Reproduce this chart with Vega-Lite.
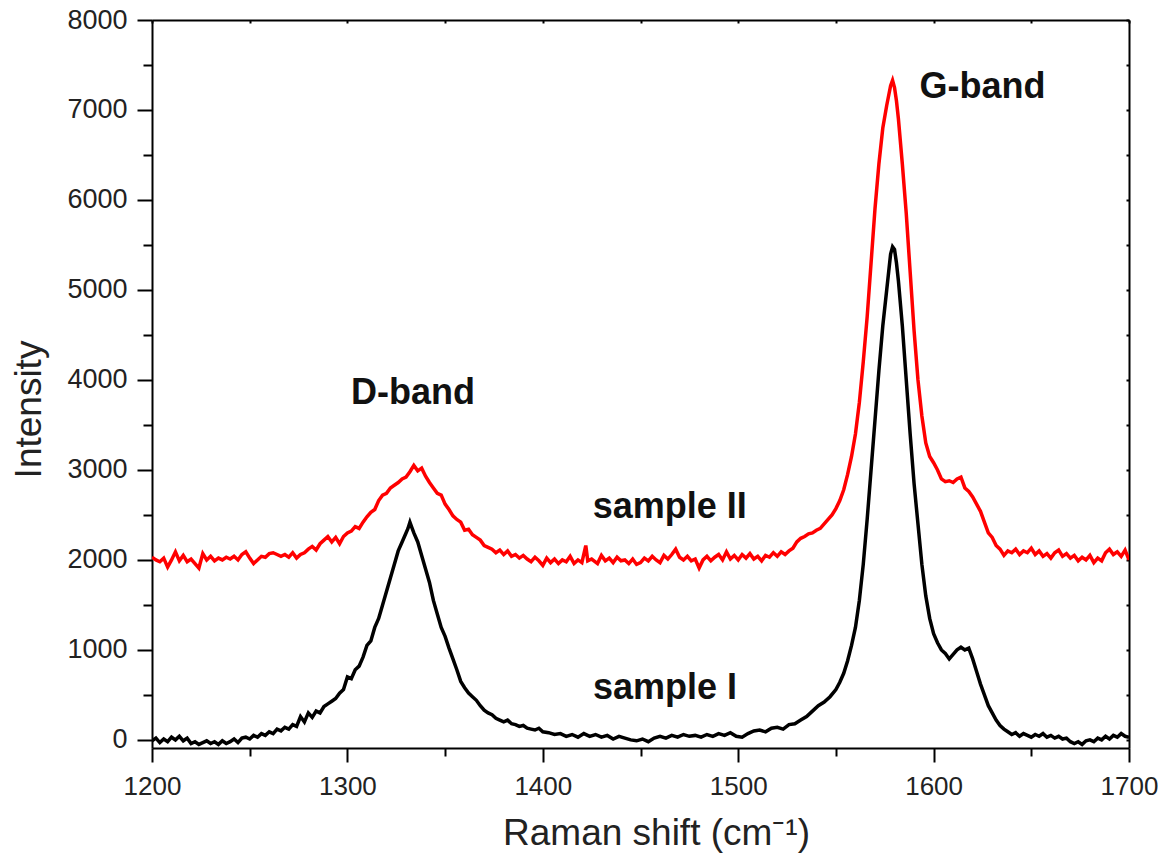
{
  "$schema": "https://vega.github.io/schema/vega-lite/v6.json",
  "width": 977,
  "height": 728,
  "autosize": "none",
  "padding": {"left": 152, "top": 20, "right": 29, "bottom": 112},
  "background": "white",
  "config": {
    "view": {"stroke": null},
    "font": "Liberation Sans",
    "axis": {"grid": false, "domainColor": "black", "domainWidth": 2, "tickColor": "black", "tickWidth": 2, "labelColor": "#222", "titleColor": "#222", "labelFont": "Liberation Sans", "titleFont": "Liberation Sans", "titleFontWeight": "normal"}
  },
  "datasets": {
    "s1": [
      {"x":1200,"y":-10},{"x":1202,"y":20},{"x":1204,"y":-30},{"x":1206,"y":10},{"x":1208,"y":-20},{"x":1210,"y":30},{"x":1212,"y":0},{"x":1214,"y":40},{"x":1216,"y":-10},{"x":1218,"y":20},
      {"x":1220,"y":-40},{"x":1222,"y":-20},{"x":1224,"y":-50},{"x":1226,"y":-30},{"x":1228,"y":-10},{"x":1230,"y":-40},{"x":1232,"y":-20},{"x":1234,"y":-50},{"x":1236,"y":-10},{"x":1238,"y":-40},
      {"x":1240,"y":-20},{"x":1242,"y":10},{"x":1244,"y":-30},{"x":1246,"y":20},{"x":1248,"y":30},{"x":1250,"y":10},{"x":1252,"y":50},{"x":1254,"y":30},{"x":1256,"y":70},{"x":1258,"y":50},
      {"x":1260,"y":90},{"x":1262,"y":70},{"x":1264,"y":120},{"x":1266,"y":100},{"x":1268,"y":140},{"x":1270,"y":120},{"x":1272,"y":170},{"x":1274,"y":150},{"x":1276,"y":260},{"x":1278,"y":200},
      {"x":1280,"y":300},{"x":1282,"y":250},{"x":1284,"y":320},{"x":1286,"y":300},{"x":1288,"y":370},{"x":1290,"y":400},{"x":1292,"y":430},{"x":1294,"y":460},{"x":1296,"y":520},{"x":1298,"y":560},
      {"x":1300,"y":700},{"x":1302,"y":680},{"x":1304,"y":780},{"x":1306,"y":820},{"x":1308,"y":920},{"x":1310,"y":1050},{"x":1312,"y":1100},{"x":1314,"y":1250},{"x":1316,"y":1350},{"x":1318,"y":1500},
      {"x":1320,"y":1650},{"x":1322,"y":1800},{"x":1324,"y":1950},{"x":1326,"y":2100},{"x":1328,"y":2200},{"x":1330,"y":2300},{"x":1331,"y":2350},{"x":1332,"y":2420},{"x":1333,"y":2360},{"x":1334,"y":2300},
      {"x":1336,"y":2200},{"x":1338,"y":2050},{"x":1340,"y":1900},{"x":1342,"y":1750},{"x":1344,"y":1550},{"x":1346,"y":1400},{"x":1348,"y":1250},{"x":1350,"y":1150},{"x":1352,"y":1020},{"x":1354,"y":900},
      {"x":1356,"y":780},{"x":1358,"y":650},{"x":1360,"y":580},{"x":1362,"y":520},{"x":1364,"y":480},{"x":1366,"y":440},{"x":1368,"y":380},{"x":1370,"y":330},{"x":1372,"y":300},{"x":1374,"y":280},
      {"x":1376,"y":240},{"x":1378,"y":220},{"x":1380,"y":200},{"x":1382,"y":220},{"x":1384,"y":180},{"x":1386,"y":170},{"x":1388,"y":150},{"x":1390,"y":160},{"x":1392,"y":130},{"x":1394,"y":120},
      {"x":1396,"y":110},{"x":1398,"y":130},{"x":1400,"y":90},{"x":1403,"y":80},{"x":1406,"y":60},{"x":1409,"y":70},{"x":1412,"y":40},{"x":1415,"y":60},{"x":1418,"y":30},{"x":1421,"y":70},
      {"x":1424,"y":40},{"x":1427,"y":60},{"x":1430,"y":30},{"x":1433,"y":50},{"x":1436,"y":10},{"x":1439,"y":40},{"x":1442,"y":20},{"x":1445,"y":0},{"x":1448,"y":-10},{"x":1451,"y":10},
      {"x":1454,"y":-20},{"x":1457,"y":20},{"x":1460,"y":40},{"x":1463,"y":20},{"x":1466,"y":50},{"x":1469,"y":30},{"x":1472,"y":60},{"x":1475,"y":40},{"x":1478,"y":50},{"x":1481,"y":30},
      {"x":1484,"y":60},{"x":1487,"y":40},{"x":1490,"y":70},{"x":1493,"y":50},{"x":1496,"y":80},{"x":1499,"y":40},{"x":1502,"y":30},{"x":1505,"y":70},{"x":1508,"y":100},{"x":1511,"y":110},
      {"x":1514,"y":90},{"x":1517,"y":130},{"x":1520,"y":140},{"x":1523,"y":120},{"x":1526,"y":170},{"x":1529,"y":180},{"x":1532,"y":220},{"x":1535,"y":260},{"x":1538,"y":320},{"x":1541,"y":380},
      {"x":1544,"y":420},{"x":1547,"y":480},{"x":1550,"y":560},{"x":1552,"y":640},{"x":1554,"y":740},{"x":1556,"y":880},{"x":1558,"y":1050},{"x":1560,"y":1250},{"x":1562,"y":1550},{"x":1564,"y":1950},
      {"x":1566,"y":2450},{"x":1568,"y":3000},{"x":1570,"y":3550},{"x":1572,"y":4100},{"x":1574,"y":4600},{"x":1576,"y":5000},{"x":1578,"y":5400},{"x":1579,"y":5480},{"x":1580,"y":5450},{"x":1581,"y":5300},
      {"x":1582,"y":5100},{"x":1584,"y":4600},{"x":1586,"y":4000},{"x":1588,"y":3400},{"x":1590,"y":2850},{"x":1592,"y":2400},{"x":1594,"y":1950},{"x":1596,"y":1600},{"x":1598,"y":1350},{"x":1600,"y":1180},
      {"x":1602,"y":1080},{"x":1604,"y":1000},{"x":1606,"y":960},{"x":1608,"y":900},{"x":1610,"y":950},{"x":1612,"y":1000},{"x":1614,"y":1030},{"x":1616,"y":1000},{"x":1618,"y":1020},{"x":1620,"y":900},
      {"x":1622,"y":760},{"x":1624,"y":620},{"x":1626,"y":500},{"x":1628,"y":380},{"x":1630,"y":300},{"x":1632,"y":220},{"x":1634,"y":160},{"x":1636,"y":120},{"x":1638,"y":90},{"x":1640,"y":60},
      {"x":1642,"y":80},{"x":1644,"y":40},{"x":1646,"y":70},{"x":1648,"y":50},{"x":1650,"y":30},{"x":1652,"y":60},{"x":1654,"y":40},{"x":1656,"y":70},{"x":1658,"y":30},{"x":1660,"y":50},
      {"x":1662,"y":20},{"x":1664,"y":40},{"x":1666,"y":10},{"x":1668,"y":20},{"x":1670,"y":-20},{"x":1672,"y":-40},{"x":1674,"y":-20},{"x":1676,"y":-50},{"x":1678,"y":-10},{"x":1680,"y":0},
      {"x":1682,"y":-20},{"x":1684,"y":20},{"x":1686,"y":0},{"x":1688,"y":40},{"x":1690,"y":10},{"x":1692,"y":50},{"x":1694,"y":30},{"x":1696,"y":70},{"x":1698,"y":40},{"x":1700,"y":30}
    ],
    "s2": [
      {"x":1200,"y":2030},{"x":1202,"y":2000},{"x":1204,"y":1980},{"x":1206,"y":2020},{"x":1208,"y":1920},{"x":1210,"y":2000},{"x":1212,"y":2090},{"x":1214,"y":1990},{"x":1216,"y":2050},{"x":1218,"y":1980},
      {"x":1220,"y":2010},{"x":1222,"y":1960},{"x":1224,"y":1910},{"x":1226,"y":2070},{"x":1228,"y":2000},{"x":1230,"y":2040},{"x":1232,"y":1990},{"x":1234,"y":2020},{"x":1236,"y":2000},{"x":1238,"y":2030},
      {"x":1240,"y":2010},{"x":1242,"y":2040},{"x":1244,"y":2000},{"x":1246,"y":2060},{"x":1248,"y":2090},{"x":1250,"y":2020},{"x":1252,"y":1960},{"x":1254,"y":2000},{"x":1256,"y":2040},{"x":1258,"y":2030},
      {"x":1260,"y":2070},{"x":1262,"y":2080},{"x":1264,"y":2060},{"x":1266,"y":2040},{"x":1268,"y":2060},{"x":1270,"y":2030},{"x":1272,"y":2080},{"x":1274,"y":2020},{"x":1276,"y":2060},{"x":1278,"y":2080},
      {"x":1280,"y":2120},{"x":1282,"y":2150},{"x":1284,"y":2110},{"x":1286,"y":2180},{"x":1288,"y":2220},{"x":1290,"y":2260},{"x":1292,"y":2200},{"x":1294,"y":2250},{"x":1296,"y":2180},{"x":1298,"y":2260},
      {"x":1300,"y":2300},{"x":1302,"y":2320},{"x":1304,"y":2370},{"x":1306,"y":2350},{"x":1308,"y":2420},{"x":1310,"y":2480},{"x":1312,"y":2530},{"x":1314,"y":2560},{"x":1316,"y":2660},{"x":1318,"y":2720},
      {"x":1320,"y":2740},{"x":1322,"y":2800},{"x":1324,"y":2830},{"x":1326,"y":2860},{"x":1328,"y":2900},{"x":1330,"y":2920},{"x":1332,"y":2980},{"x":1334,"y":3050},{"x":1336,"y":2990},{"x":1338,"y":3020},
      {"x":1340,"y":2930},{"x":1342,"y":2860},{"x":1344,"y":2800},{"x":1346,"y":2740},{"x":1348,"y":2720},{"x":1350,"y":2620},{"x":1352,"y":2560},{"x":1354,"y":2490},{"x":1356,"y":2450},{"x":1358,"y":2420},
      {"x":1360,"y":2330},{"x":1362,"y":2340},{"x":1364,"y":2280},{"x":1366,"y":2250},{"x":1368,"y":2220},{"x":1370,"y":2160},{"x":1372,"y":2140},{"x":1374,"y":2120},{"x":1376,"y":2080},{"x":1378,"y":2110},
      {"x":1380,"y":2060},{"x":1382,"y":2100},{"x":1384,"y":2040},{"x":1386,"y":2060},{"x":1388,"y":2020},{"x":1390,"y":2050},{"x":1392,"y":2010},{"x":1394,"y":1980},{"x":1396,"y":2030},{"x":1398,"y":1990},
      {"x":1400,"y":1940},{"x":1402,"y":2020},{"x":1404,"y":1970},{"x":1406,"y":2010},{"x":1408,"y":1960},{"x":1410,"y":2000},{"x":1412,"y":1980},{"x":1414,"y":2040},{"x":1416,"y":1960},{"x":1418,"y":2000},
      {"x":1420,"y":1970},{"x":1422,"y":2160},{"x":1423,"y":1990},{"x":1425,"y":2010},{"x":1428,"y":1960},{"x":1430,"y":2050},{"x":1432,"y":1990},{"x":1434,"y":2020},{"x":1436,"y":1970},{"x":1438,"y":2030},
      {"x":1440,"y":1990},{"x":1442,"y":2000},{"x":1444,"y":1960},{"x":1446,"y":2010},{"x":1448,"y":1950},{"x":1450,"y":1970},{"x":1452,"y":2020},{"x":1454,"y":1990},{"x":1456,"y":2040},{"x":1458,"y":2000},
      {"x":1460,"y":1970},{"x":1462,"y":2050},{"x":1464,"y":2010},{"x":1466,"y":2060},{"x":1468,"y":2120},{"x":1470,"y":2030},{"x":1472,"y":2000},{"x":1474,"y":2040},{"x":1476,"y":1990},{"x":1478,"y":2010},
      {"x":1480,"y":1910},{"x":1482,"y":2000},{"x":1484,"y":2040},{"x":1486,"y":1990},{"x":1488,"y":2030},{"x":1490,"y":2060},{"x":1492,"y":2000},{"x":1494,"y":2090},{"x":1496,"y":2010},{"x":1498,"y":2050},
      {"x":1500,"y":2000},{"x":1502,"y":2060},{"x":1504,"y":2020},{"x":1506,"y":2070},{"x":1508,"y":2010},{"x":1510,"y":2040},{"x":1512,"y":1990},{"x":1514,"y":2050},{"x":1516,"y":2030},{"x":1518,"y":2080},
      {"x":1520,"y":2040},{"x":1522,"y":2090},{"x":1524,"y":2060},{"x":1526,"y":2100},{"x":1528,"y":2130},{"x":1530,"y":2200},{"x":1532,"y":2240},{"x":1534,"y":2260},{"x":1536,"y":2290},{"x":1538,"y":2300},
      {"x":1540,"y":2330},{"x":1542,"y":2350},{"x":1544,"y":2400},{"x":1546,"y":2450},{"x":1548,"y":2500},{"x":1550,"y":2570},{"x":1552,"y":2660},{"x":1554,"y":2780},{"x":1556,"y":2950},{"x":1558,"y":3150},
      {"x":1560,"y":3400},{"x":1562,"y":3750},{"x":1564,"y":4200},{"x":1566,"y":4700},{"x":1568,"y":5300},{"x":1570,"y":5900},{"x":1572,"y":6400},{"x":1574,"y":6800},{"x":1576,"y":7050},{"x":1578,"y":7270},
      {"x":1579,"y":7330},{"x":1580,"y":7250},{"x":1581,"y":7100},{"x":1582,"y":6900},{"x":1584,"y":6400},{"x":1586,"y":5850},{"x":1588,"y":5200},{"x":1590,"y":4550},{"x":1592,"y":4000},{"x":1594,"y":3600},
      {"x":1596,"y":3300},{"x":1598,"y":3150},{"x":1600,"y":3080},{"x":1602,"y":3000},{"x":1604,"y":2900},{"x":1606,"y":2870},{"x":1608,"y":2880},{"x":1610,"y":2860},{"x":1612,"y":2900},{"x":1614,"y":2920},
      {"x":1616,"y":2800},{"x":1618,"y":2760},{"x":1620,"y":2700},{"x":1622,"y":2620},{"x":1624,"y":2540},{"x":1626,"y":2420},{"x":1628,"y":2300},{"x":1630,"y":2250},{"x":1632,"y":2160},{"x":1634,"y":2120},
      {"x":1636,"y":2050},{"x":1638,"y":2100},{"x":1640,"y":2080},{"x":1642,"y":2120},{"x":1644,"y":2060},{"x":1646,"y":2100},{"x":1648,"y":2080},{"x":1650,"y":2130},{"x":1652,"y":2060},{"x":1654,"y":2100},
      {"x":1656,"y":2040},{"x":1658,"y":2070},{"x":1660,"y":2020},{"x":1662,"y":2080},{"x":1664,"y":2110},{"x":1666,"y":2040},{"x":1668,"y":2070},{"x":1670,"y":2020},{"x":1672,"y":2050},{"x":1674,"y":1990},
      {"x":1676,"y":2030},{"x":1678,"y":2000},{"x":1680,"y":2050},{"x":1682,"y":1970},{"x":1684,"y":2020},{"x":1686,"y":1990},{"x":1688,"y":2080},{"x":1690,"y":2120},{"x":1692,"y":2060},{"x":1694,"y":2090},
      {"x":1696,"y":2040},{"x":1698,"y":2110},{"x":1700,"y":2000}
    ],
    "labels": [
      {"x":1333.6,"y":3850,"t":"D-band"},
      {"x":1625,"y":7250,"t":"G-band"},
      {"x":1465,"y":2590,"t":"sample II"},
      {"x":1462.5,"y":580,"t":"sample I"}
    ]
  },
  "resolve": {"axis": {"x": "independent", "y": "independent"}},
  "layer": [
    {
      "data": {"name": "s1"},
      "mark": {"type": "line", "color": "black", "strokeWidth": 3.5, "clip": true},
      "encoding": {
        "x": {"field": "x", "type": "quantitative", "scale": {"domain": [1200, 1700], "nice": false, "zero": false},
          "axis": {"orient": "bottom", "title": "Raman shift (cm⁻¹)", "values": [1200,1250,1300,1350,1400,1450,1500,1550,1600,1650,1700], "format": "d",
            "labelExpr": "datum.value % 100 === 0 ? datum.label : ''",
            "tickSize": {"condition": {"test": "datum.value % 100 === 0", "value": 14}, "value": 8},
            "labelFontSize": 26, "labelPadding": 11, "titleFontSize": 37, "titlePadding": 16, "titleX": 504, "labelFlush": false}},
        "y": {"field": "y", "type": "quantitative", "scale": {"domain": [-90, 8000], "nice": false, "zero": false},
          "axis": {"orient": "left", "title": "Intensity", "values": [0,500,1000,1500,2000,2500,3000,3500,4000,4500,5000,5500,6000,6500,7000,7500,8000], "format": "d",
            "labelExpr": "datum.value % 1000 === 0 ? datum.label : ''",
            "tickSize": {"condition": {"test": "datum.value % 1000 === 0", "value": 15}, "value": 9},
            "labelFontSize": 27, "labelPadding": 10, "titleFontSize": 37, "titlePadding": 18, "titleY": 389, "labelFlush": false}}
      }
    },
    {
      "data": {"name": "s2"},
      "mark": {"type": "line", "color": "#ff0000", "strokeWidth": 3.5, "clip": true},
      "encoding": {
        "x": {"field": "x", "type": "quantitative",
          "axis": {"orient": "top", "title": null, "labels": false, "values": [1200,1250,1300,1350,1400,1450,1500,1550,1600,1650,1700], "tickSize": -3}},
        "y": {"field": "y", "type": "quantitative",
          "axis": {"orient": "right", "title": null, "labels": false, "values": [0,500,1000,1500,2000,2500,3000,3500,4000,4500,5000,5500,6000,6500,7000,7500,8000], "tickSize": -3}}
      }
    },
    {
      "data": {"name": "labels"},
      "mark": {"type": "text", "font": "Liberation Sans", "fontWeight": "bold", "fontSize": 36, "color": "#111", "align": "center", "baseline": "middle"},
      "encoding": {
        "x": {"field": "x", "type": "quantitative", "axis": null},
        "y": {"field": "y", "type": "quantitative", "axis": null},
        "text": {"field": "t"}
      }
    }
  ]
}
